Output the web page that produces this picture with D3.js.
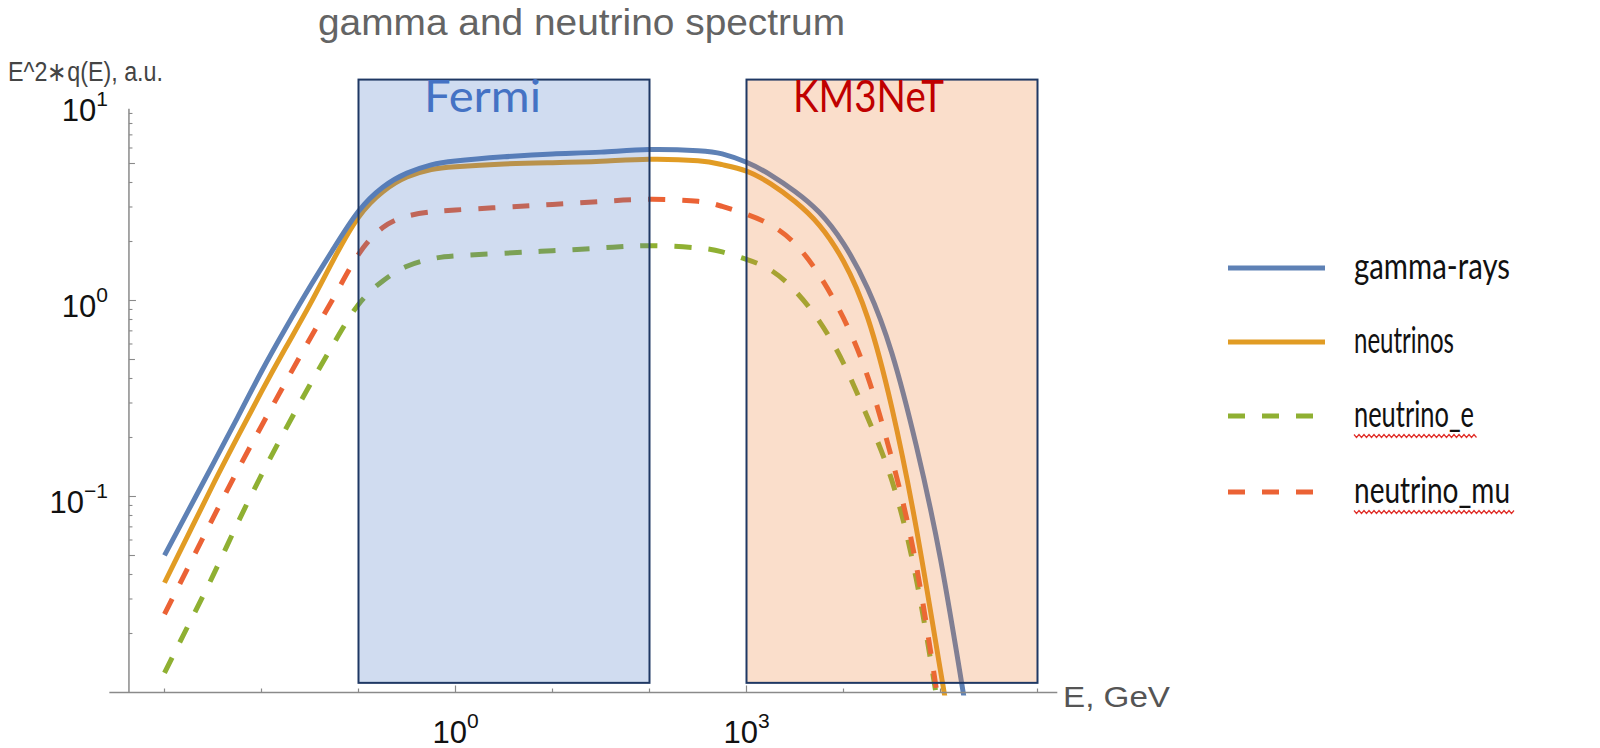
<!DOCTYPE html>
<html><head><meta charset="utf-8">
<script src="https://cdn.jsdelivr.net/npm/d3@7"></script>
<style>body{margin:0;background:#fff;} svg{display:block;}</style>
</head><body>
<svg id="chart" width="1600" height="748"></svg>
<script>
// ---------------- data ----------------
const titleText = "gamma and neutrino spectrum";
const yAxisTitle = "E^2\u2217q(E), a.u.";
const xAxisTitle = "E, GeV";

// energies in GeV (shared grid)
const energyGeV = [1e-3, 1.78e-3, 3.16e-3, 5.62e-3, 1e-2, 1.78e-2, 3.16e-2, 5.62e-2,
  0.1, 0.178, 0.316, 0.562, 1, 3.16, 10, 31.6, 100, 316, 562, 1000, 1780, 3160, 5620,
  1e4, 1.78e4, 3.16e4, 5.62e4, 1e5, 1.78e5];

const gammaRays = [0.0501, 0.0857, 0.1462, 0.2512, 0.4345, 0.7244, 1.175, 1.862,
  2.851, 3.784, 4.467, 4.920, 5.152, 5.408, 5.598, 5.715, 5.888, 5.808, 5.598, 5.070,
  4.365, 3.600, 2.818, 1.950, 1.148, 0.537, 0.182, 0.0479, 0.00891];
const neutrinos = [0.0363, 0.0646, 0.1148, 0.1995, 0.3428, 0.5754, 0.955, 1.641,
  2.661, 3.589, 4.266, 4.656, 4.819, 4.977, 5.047, 5.129, 5.260, 5.164, 4.932, 4.571,
  3.936, 3.199, 2.427, 1.585, 0.8128, 0.2818, 0.0692, 0.01288, 0.0024];
const neutrinoE = [0.01259, 0.02228, 0.03945, 0.07244, 0.1288, 0.2213, 0.3715, 0.6095,
  0.955, 1.259, 1.496, 1.629, 1.690, 1.742, 1.795, 1.854, 1.905, 1.854, 1.770, 1.622,
  1.429, 1.122, 0.7852, 0.4786, 0.2512, 0.1202, 0.0380, 0.00708, 0.00112];
const neutrinoMu = [0.0251, 0.0442, 0.0776, 0.1349, 0.2291, 0.3846, 0.6383, 1.047,
  1.718, 2.355, 2.692, 2.831, 2.897, 2.992, 3.090, 3.199, 3.281, 3.206, 3.020, 2.754,
  2.427, 1.950, 1.349, 0.8128, 0.4074, 0.1549, 0.0447, 0.00759, 0.00126];

const seriesNames = ["gamma-rays", "neutrinos", "neutrino_e", "neutrino_mu"];
const seriesColors = ["#5E81B5", "#E19C24", "#8FB032", "#EB6235"];
const seriesDashed = [false, false, true, true];
const seriesValues = [gammaRays, neutrinos, neutrinoE, neutrinoMu];
const drawOrder = [2, 3, 1, 0];

const xTickDecades = [1e-3, 1e-2, 1e-1, 1e0, 1e1, 1e2, 1e3, 1e4, 1e5, 1e6];
const xTickLabels = [{v: 1e0, exp: "0"}, {v: 1e3, exp: "3"}];
const yTickLabels = [{v: 1e-1, exp: "\u22121"}, {v: 1e0, exp: "0"}, {v: 1e1, exp: "1"}];
const yDecades = [1e-2, 1e-1, 1e0];

const xAxisExtent = [2.7e-4, 1.6e6];
const yAxisExtent = [0.01, 9.5];
const yAxisAtE = 4.3e-4;

const boxes = [
  {name: "Fermi", e: [0.1, 100], v: [0.0112, 13.4], fill: "#4472C4", text: "#4472C4"},
  {name: "KM3NeT", e: [1000, 1e6], v: [0.0112, 13.4], fill: "#ED7D31", text: "#C00000"}
];

// ---------------- drawing ----------------
const svg = d3.select("#chart");
const x = d3.scaleLog().domain([1e-3, 1e6]).range([164.5, 1037.5]);
const y = d3.scaleLog().domain([0.01, 10]).range([692.5, 104.5]);

const axisColor = "#8a8a8a";
const mFont = "'Liberation Sans', Arial, sans-serif";
const oFont = "Lato, 'Open Sans', sans-serif";

// title
svg.append("text").attr("x", 318).attr("y", 35)
  .attr("font-family", mFont).attr("font-size", 36).attr("fill", "#646464")
  .attr("textLength", 527).attr("lengthAdjust", "spacingAndGlyphs")
  .text(titleText);

// y axis title
svg.append("text").attr("x", 8).attr("y", 81)
  .attr("font-family", mFont).attr("font-size", 27).attr("fill", "#444")
  .attr("textLength", 155).attr("lengthAdjust", "spacingAndGlyphs")
  .text(yAxisTitle);

// x axis title
svg.append("text").attr("x", 1063).attr("y", 707)
  .attr("font-family", mFont).attr("font-size", 30).attr("fill", "#555")
  .attr("textLength", 107).attr("lengthAdjust", "spacingAndGlyphs")
  .text(xAxisTitle);

// curves (clipped at the bottom of the plot range)
svg.append("clipPath").attr("id", "plotclip").append("rect")
  .attr("x", x(yAxisAtE)).attr("y", 0)
  .attr("width", x(xAxisExtent[1]) - x(yAxisAtE)).attr("height", y(0.01) + 3);

const line = d3.line().x(d => x(d[0])).y(d => y(d[1])).curve(d3.curveNatural);
const curves = svg.append("g").attr("clip-path", "url(#plotclip)");
drawOrder.forEach(i => {
  const pts = energyGeV.map((e, k) => [e, seriesValues[i][k]]);
  curves.append("path").attr("d", line(pts))
    .attr("fill", "none").attr("stroke", seriesColors[i]).attr("stroke-width", 5)
    .attr("stroke-dasharray", seriesDashed[i] ? "17,17" : null);
});

// axes
const ax = svg.append("g");
ax.append("line").attr("x1", x(xAxisExtent[0])).attr("x2", x(xAxisExtent[1]))
  .attr("y1", y(0.01)).attr("y2", y(0.01)).attr("stroke", axisColor).attr("stroke-width", 1.5);
ax.append("line").attr("x1", x(yAxisAtE)).attr("x2", x(yAxisAtE))
  .attr("y1", y(yAxisExtent[1])).attr("y2", y(0.01)).attr("stroke", axisColor).attr("stroke-width", 1.5);

xTickDecades.forEach(v => {
  const major = xTickLabels.some(t => t.v === v);
  ax.append("line").attr("x1", x(v)).attr("x2", x(v))
    .attr("y1", y(0.01)).attr("y2", y(0.01) - (major ? 7 : 4))
    .attr("stroke", axisColor).attr("stroke-width", 1.2);
});
yDecades.forEach(d => {
  for (let k = 1; k <= 9; k++) {
    const v = d * k;
    if (v > yAxisExtent[1] || v <= 0.01) continue;
    const len = k === 1 ? 7 : (k === 5 ? 6 : 3.5);
    ax.append("line").attr("x1", x(yAxisAtE)).attr("x2", x(yAxisAtE) + len)
      .attr("y1", y(v)).attr("y2", y(v)).attr("stroke", axisColor).attr("stroke-width", 1.1);
  }
});

xTickLabels.forEach(t => {
  const tx = ax.append("text").attr("x", x(t.v)).attr("y", y(0.01) + 50)
    .attr("text-anchor", "middle").attr("font-family", mFont).attr("font-size", 31).attr("fill", "#111");
  tx.append("tspan").text("10");
  tx.append("tspan").attr("dy", -15).attr("font-size", 21).text(t.exp);
});
yTickLabels.forEach(t => {
  const tx = ax.append("text").attr("x", 108).attr("y", y(t.v) + 16)
    .attr("text-anchor", "end").attr("font-family", mFont).attr("font-size", 31).attr("fill", "#111");
  tx.append("tspan").text("10");
  tx.append("tspan").attr("dy", -15).attr("font-size", 21).text(t.exp);
});

// overlay boxes
boxes.forEach(b => {
  svg.append("rect").attr("x", x(b.e[0])).attr("y", y(b.v[1]))
    .attr("width", x(b.e[1]) - x(b.e[0])).attr("height", y(b.v[0]) - y(b.v[1]))
    .attr("fill", b.fill).attr("fill-opacity", 0.25)
    .attr("stroke", "#1F3864").attr("stroke-width", 2);
});
svg.append("text").attr("x", 424).attr("y", 112).attr("font-family", oFont).attr("font-size", 44)
  .attr("fill", boxes[0].text).attr("textLength", 117).attr("lengthAdjust", "spacingAndGlyphs").text(boxes[0].name);
svg.append("text").attr("x", 793).attr("y", 112).attr("font-family", oFont).attr("font-size", 44)
  .attr("fill", boxes[1].text).attr("textLength", 151).attr("lengthAdjust", "spacingAndGlyphs").text(boxes[1].name);

// legend
const legendY = [268, 342, 416, 492];
const legendTextW = [156, 100, 120, 156];
seriesNames.forEach((n, i) => {
  svg.append("line").attr("x1", 1228).attr("x2", 1325).attr("y1", legendY[i]).attr("y2", legendY[i])
    .attr("stroke", seriesColors[i]).attr("stroke-width", 5)
    .attr("stroke-dasharray", seriesDashed[i] ? "17,17" : null);
  svg.append("text").attr("x", 1354).attr("y", legendY[i] + 11)
    .attr("font-family", oFont).attr("font-size", 36).attr("fill", "#111")
    .attr("textLength", legendTextW[i]).attr("lengthAdjust", "spacingAndGlyphs").text(n);
  if (n.includes("_")) {
    const x0 = 1354, x1 = 1354 + legendTextW[i] + 4, yy = legendY[i] + 20;
    const pts = [];
    for (let xx = x0, k = 0; xx <= x1; xx += 2.5, k++) pts.push([xx, yy + (k % 2 ? 1.5 : -1.5)]);
    svg.append("path").attr("d", d3.line()(pts)).attr("fill", "none")
      .attr("stroke", "#E0302A").attr("stroke-width", 1.2);
  }
});
</script>
</body></html>
